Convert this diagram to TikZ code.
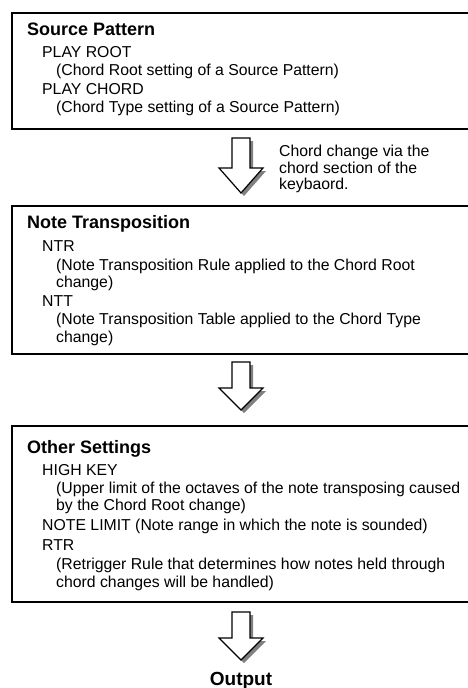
\documentclass[tikz,border=0pt]{standalone}
\usepackage{fontspec}
\setmainfont{Liberation Sans}
\newcommand\DrawDownArrow[4]{% cx, top, shoulder, tip
  \fill[arrowshadow, shift={(3,3)}] (#1-9,#2) -- (#1+9,#2) -- (#1+9,#3) -- (#1+22,#3) -- (#1,#4) -- (#1-22,#3) -- (#1-9,#3) -- cycle;
  \draw[bigarrow] (#1-9,#2) -- (#1+9,#2) -- (#1+9,#3) -- (#1+22,#3) -- (#1,#4) -- (#1-22,#3) -- (#1-9,#3) -- cycle;
}
\tikzset{
  box/.style={draw, line width=1.8pt, rectangle, anchor=north west, inner sep=0pt, minimum width=520pt},
  ttl/.style={anchor=base west, inner sep=0pt, font=\fontsize{18}{20}\selectfont\bfseries},
  txt/.style={anchor=base west, inner sep=0pt, font=\fontsize{15.8}{17}\selectfont},
  bigarrow/.style={draw=black, fill=white, line width=1.2pt, line join=miter},
  arrowshadow/.style={fill=black!50, draw=none}
}
\begin{document}
\begin{tikzpicture}[x=1pt, y=-1pt]
\useasboundingbox (0,0) rectangle (467,688);
% Box 1
\node[box, minimum height=116pt] (b1) at (11,12) {};
\node[ttl] (t1) at (27,35) {Source Pattern};
\node[txt] (l11) at (42,57) {PLAY ROOT};
\node[txt] (l12) at (56,75) {(Chord Root setting of a Source Pattern)};
\node[txt] (l13) at (42,94) {PLAY CHORD};
\node[txt] (l14) at (56,112) {(Chord Type setting of a Source Pattern)};
% Arrow 1
\DrawDownArrow{241}{138}{168}{193}
\node[txt] (c1) at (279,156) {Chord change via the};
\node[txt] (c2) at (279,173) {chord section of the};
\node[txt] (c3) at (279,189) {keybaord.};
% Box 2
\node[box, minimum height=148pt] (b2) at (11,205) {};
\node[ttl] (t2) at (27,228) {Note Transposition};
\node[txt] (l21) at (42,251) {NTR};
\node[txt] (l22) at (56,270) {(Note Transposition Rule applied to the Chord Root};
\node[txt] (l23) at (56,287) {change)};
\node[txt] (l24) at (42,306) {NTT};
\node[txt] (l25) at (56,324) {(Note Transposition Table applied to the Chord Type};
\node[txt] (l26) at (56,342) {change)};
% Arrow 2
\DrawDownArrow{241}{362}{388}{410}
% Box 3
\node[box, minimum height=176pt] (b3) at (11,425) {};
\node[ttl] (t3) at (27,453) {Other Settings};
\node[txt] (l31) at (42,475) {HIGH KEY};
\node[txt] (l32) at (56,493) {(Upper limit of the octaves of the note transposing caused};
\node[txt] (l33) at (56,510) {by the Chord Root change)};
\node[txt] (l34) at (42,530) {NOTE LIMIT (Note range in which the note is sounded)};
\node[txt] (l35) at (42,550) {RTR};
\node[txt] (l36) at (56,569) {(Retrigger Rule that determines how notes held through};
\node[txt] (l37) at (56,587) {chord changes will be handled)};
% Arrow 3
\DrawDownArrow{241}{612}{638}{660}
\node[anchor=base, inner sep=0pt, font=\fontsize{19}{21}\selectfont\bfseries] (out) at (241,685) {Output};
\end{tikzpicture}
\end{document}
